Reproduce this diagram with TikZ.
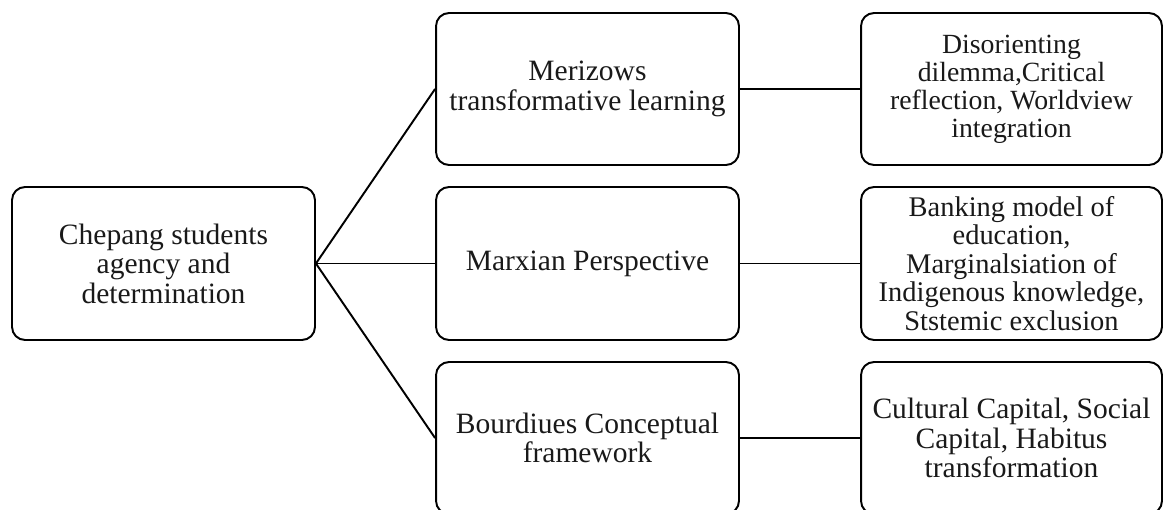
\documentclass[tikz,border=0pt]{standalone}
\usepackage{fontspec}
\setmainfont{Liberation Serif}
\begin{document}
\begin{tikzpicture}[x=0.02cm,y=-0.02cm,
  box/.style={draw=black, line width=1.1pt, rounded corners=0.26cm, align=center,
    font=\fontsize{16.8}{16.8}\selectfont, inner sep=0pt, text=black!90},
  smalltop/.style={font=\fontsize{15.8}{16}\selectfont},
  smallmid/.style={font=\fontsize{16.2}{16.2}\selectfont},
  lbox/.style={box, minimum width=6.06cm, minimum height=3.06cm},
  mbox/.style={box, minimum width=6.06cm, minimum height=3.04cm},
  rbox/.style={box, minimum width=6.02cm, minimum height=3.04cm},
  link/.style={draw=black, line width=1.1pt}]
\useasboundingbox (0,0) rectangle (1163,510);
\node[lbox] (root) at (163.5,263.5) {Chepang students\\agency and\\determination};
\node[mbox] (m1) at (587.5,89) {Merizows\\transformative learning};
\node[mbox, minimum height=3.06cm] (m2) at (587.5,263.5) {Marxian Perspective};
\node[mbox] (m3) at (587.5,438) {Bourdiues Conceptual\\framework};
\node[rbox, smalltop] (r1) at (1011.5,89) {Disorienting\\dilemma,Critical\\reflection, Worldview\\integration};
\node[rbox, smallmid, minimum height=3.06cm] (r2) at (1011.5,263.5) {Banking model of\\education,\\Marginalsiation of\\Indigenous knowledge,\\Ststemic exclusion};
\node[rbox] (r3) at (1011.5,438) {Cultural Capital, Social\\Capital, Habitus\\transformation};
\draw[link] (root.east) -- (m1.west);
\draw[link] (root.east) -- (m2.west);
\draw[link] (root.east) -- (m3.west);
\draw[link] (m1.east) -- (r1.west);
\draw[link] (m2.east) -- (r2.west);
\draw[link] (m3.east) -- (r3.west);
\end{tikzpicture}
\end{document}
